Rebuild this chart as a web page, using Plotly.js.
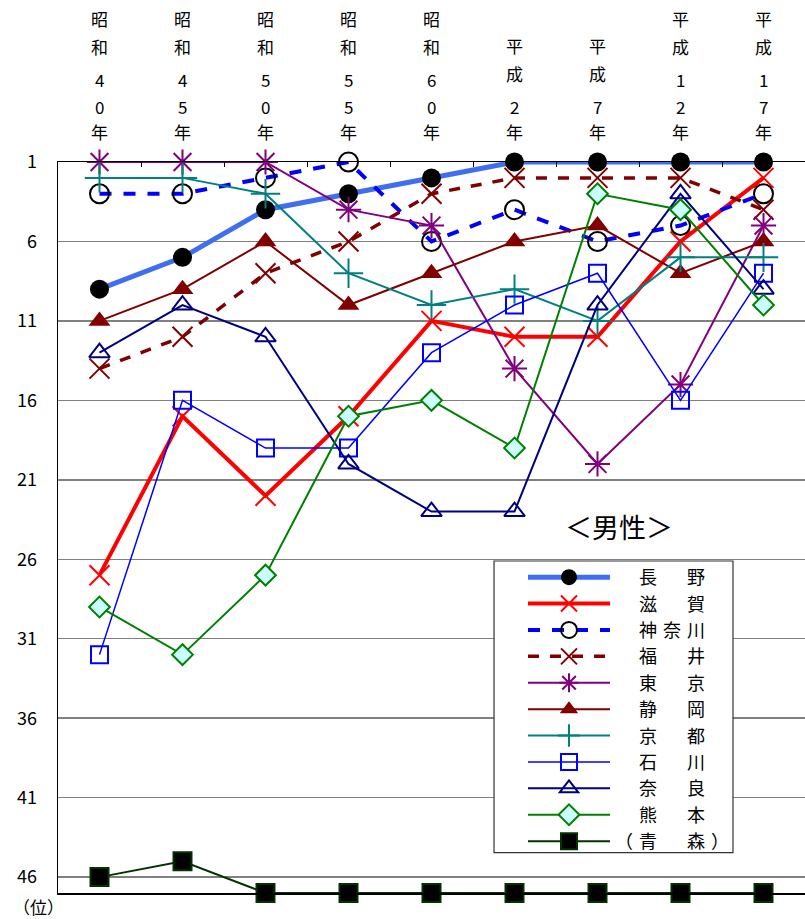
<!DOCTYPE html>
<html><head><meta charset="utf-8">
<script src="https://cdn.plot.ly/plotly-3.0.1.min.js"></script>
<style>html,body{margin:0;padding:0;background:#fff}#chart{width:805px;height:919px}</style>
</head><body><div id="chart"></div>
<script>
// ---- data ----
const categories = ["昭和40年","昭和45年","昭和50年","昭和55年","昭和60年","平成2年","平成7年","平成12年","平成17年"];
const yTickVals = [1,6,11,16,21,26,31,36,41,46];
const yTickText = ["1","6","11","16","21","26","31","36","41","46"];
const seriesNames = ["長　野","滋　賀","神奈川","福　井","東　京","静　岡","京　都","石　川","奈　良","熊　本","（青　森）"];
const nagano   = [9,7,4,3,2,1,1,1,1];
const shiga    = [27,17,22,17,11,12,12,6,2];
const kanagawa = [3,3,2,1,6,4,6,5,3];
const fukui    = [14,12,8,6,3,2,2,2,4];
const tokyo    = [1,1,1,4,5,14,20,15,5];
const shizuoka = [11,9,6,10,8,6,5,8,6];
const kyoto    = [2,2,3,8,10,9,11,7,7];
const ishikawa = [32,16,19,19,13,10,8,16,8];
const nara     = [13,10,12,20,23,23,10,3,9];
const kumamoto = [29,32,27,17,16,19,3,4,10];
const aomori   = [46,45,47,47,47,47,47,47,47];
const chartTitle = "＜男性＞";
const yUnit = "（位）";

const FONT = "Noto Sans CJK JP, Noto Sans, sans-serif";
const values = [nagano,shiga,kanagawa,fukui,tokyo,shizuoka,kyoto,ishikawa,nara,kumamoto,aomori];
const styles = [
  {line:{color:'#3F6FF0',width:5}, marker:{symbol:'circle',size:19,color:'#000',line:{width:0}}},
  {line:{color:'#FF0000',width:4}, marker:{symbol:'x-thin-open',size:20,color:'#FF0000',line:{color:'#FF0000',width:2}}},
  {line:{color:'#0000FF',width:4,dash:'12px,12px'}, marker:{symbol:'circle-open',size:19,color:'#000',line:{color:'#000',width:2}}},
  {line:{color:'#800000',width:3.5,dash:'11px,11px'}, marker:{symbol:'x-thin-open',size:20,color:'#800000',line:{color:'#800000',width:2}}},
  {line:{color:'#800080',width:2}, marker:{symbol:'asterisk-open',size:21,color:'#800080',line:{color:'#800080',width:2}}},
  {line:{color:'#800000',width:2}, marker:{symbol:'triangle-up',size:19,color:'#800000',line:{width:0}}},
  {line:{color:'#008080',width:2}, marker:{symbol:'cross-thin-open',size:21,color:'#008080',line:{color:'#008080',width:2}}},
  {line:{color:'#0000FF',width:1.5}, marker:{symbol:'square-open',size:17,color:'#0000FF',line:{color:'#0000FF',width:2}}},
  {line:{color:'#000080',width:2}, marker:{symbol:'triangle-up-open',size:18,color:'#000080',line:{color:'#000080',width:2}}},
  {line:{color:'#008000',width:2}, marker:{symbol:'diamond',size:16,color:'#CCFFFF',line:{color:'#008000',width:2}}},
  {line:{color:'#003300',width:2}, marker:{symbol:'square',size:18,color:'#000',line:{color:'#003300',width:2}}}
];

function legendLabel(name){
  const lead = name.startsWith('（') ? '' : '\u3000';
  return '<span style="letter-spacing:6px">' + lead + name + '</span>';
}

const traces = values.map((v,i)=>Object.assign({
  type:'scatter', mode:'lines+markers', name:legendLabel(seriesNames[i]),
  x:categories, y:v, cliponaxis:false, hoverinfo:'skip'
}, styles[i]));

// vertical stacked tick labels
function isDigit(c){return /[0-9]/.test(c);}
const annotations = [];
categories.forEach((label,i)=>{
  const chars = Array.from(label);
  let off = 31;
  for(let k=chars.length-1;k>=0;k--){
    if(k<chars.length-1){
      const lower = chars[k+1], upper = chars[k];
      let gap;
      if(lower==='年') gap = 25;
      else if(isDigit(lower) && isDigit(upper)) gap = 26.5;
      else if(isDigit(lower)) gap = 33;
      else gap = 28;
      off += gap;
    }
    annotations.push({xref:'x',yref:'paper',x:i,y:1,yanchor:'middle',xanchor:'center',yshift:off,
      text:chars[k],showarrow:false,borderpad:0,font:{family:FONT,size:17,color:'#000'}});
  }
});
annotations.push({xref:'paper',yref:'paper',x:0.751,y:0.5007,xanchor:'center',yanchor:'middle',
  text:chartTitle,showarrow:false,font:{family:FONT,size:27,color:'#000'}});
annotations.push({xref:'paper',yref:'paper',x:0,y:0,xanchor:'center',yanchor:'middle',xshift:-20,yshift:-13.5,
  text:yUnit,showarrow:false,font:{family:FONT,size:17,color:'#000'}});

const layout = {
  width:805, height:919,
  margin:{l:58,r:0,t:162,b:26,pad:0},
  paper_bgcolor:'#fff', plot_bgcolor:'#fff',
  showlegend:true,
  font:{family:FONT,color:'#000'},
  xaxis:{type:'category', side:'top', range:[-0.5,8.5], showline:true, linecolor:'#000', linewidth:1.5,
    mirror:true, ticks:'inside', tickson:'boundaries', ticklen:5, tickcolor:'#000', tickwidth:1,
    showticklabels:false, showgrid:false, zeroline:false, fixedrange:true},
  yaxis:{range:[47,1], tickvals:yTickVals, ticktext:yTickText, showline:true, linecolor:'#000', linewidth:1.5,
    ticks:'', showgrid:true, gridcolor:'#808080', gridwidth:1.5, zeroline:false,
    tickfont:{family:FONT,size:18,color:'#000'}, ticklabelstandoff:16, fixedrange:true},
  legend:{x:0.6225, y:0.457, xanchor:'left', yanchor:'top', bgcolor:'rgba(0,0,0,0)', borderwidth:0,
    font:{family:FONT,size:18,color:'#000'}, itemwidth:82, tracegroupgap:0, itemsizing:'trace',
    traceorder:'normal', itemclick:false, itemdoubleclick:false},
  shapes:[{type:'rect', xref:'paper', yref:'paper', x0:0.5837, x1:0.9036, y0:0.0551, y1:0.4542,
    line:{color:'#333',width:1.2}, fillcolor:'#fff', layer:'above'}],
  annotations:annotations
};

Plotly.newPlot('chart', traces, layout, {staticPlot:true, displayModeBar:false});
</script>
</body></html>
